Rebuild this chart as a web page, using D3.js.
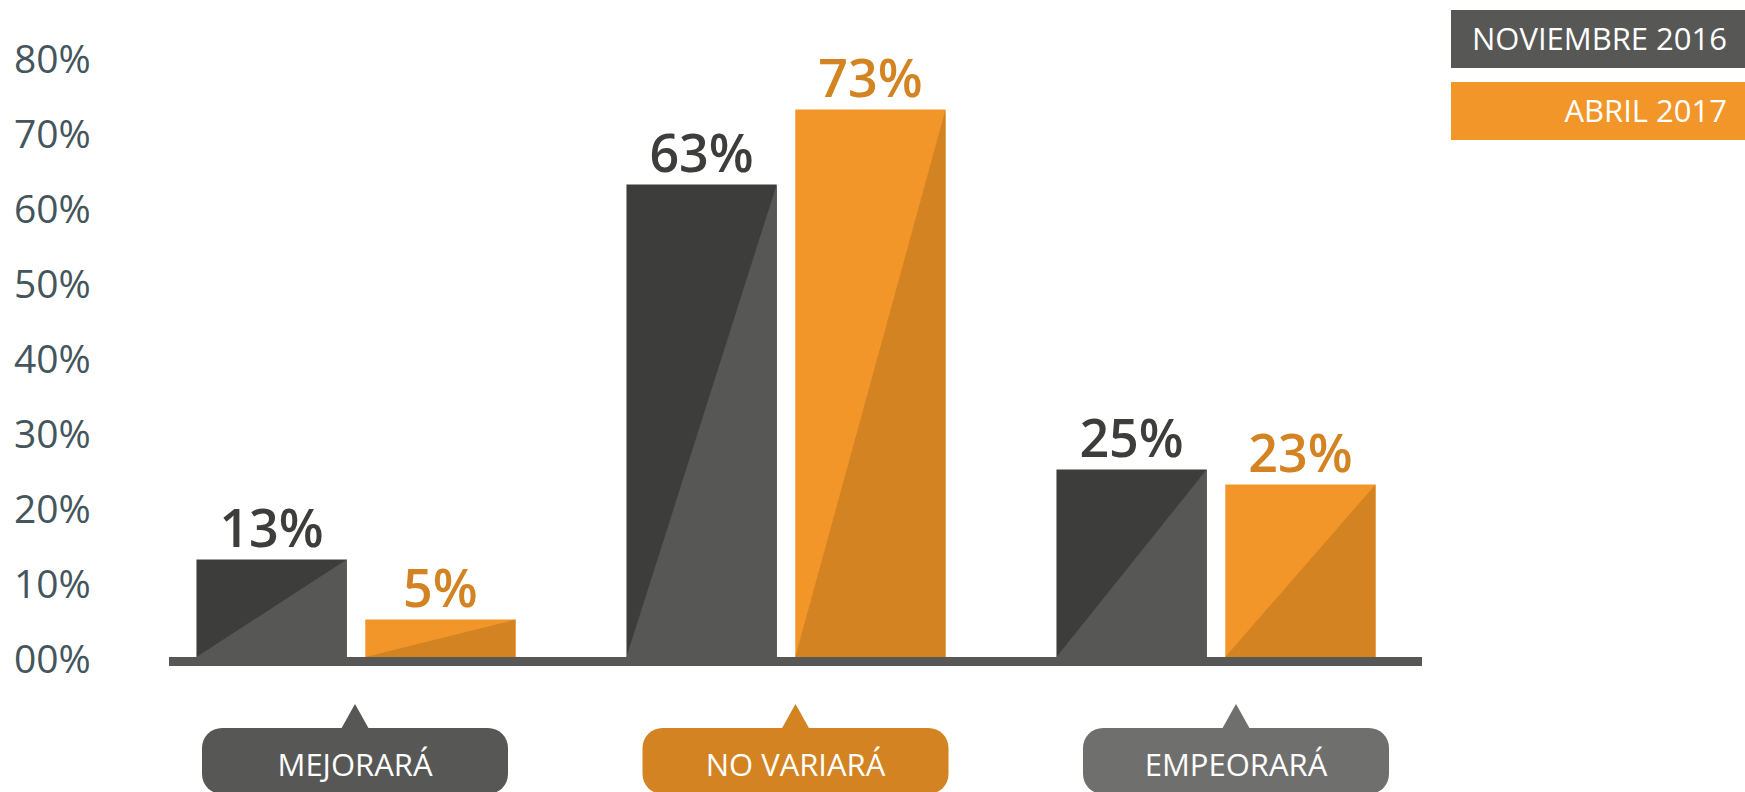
<!DOCTYPE html>
<html>
<head>
<meta charset="utf-8">
<script src="https://cdn.jsdelivr.net/npm/d3@7"></script>
<style>
  html, body { margin: 0; padding: 0; background: #fff; }
  svg { display: block; font-family: "Open Sans", "Noto Sans", sans-serif; }
</style>
</head>
<body>
<div id="main"></div>
<script>
const categories = ["MEJORARÁ", "NO VARIARÁ", "EMPEORARÁ"];
const seriesNames = ["NOVIEMBRE 2016", "ABRIL 2017"];
const nov2016 = [13, 63, 25];
const abr2017 = [5, 73, 23];
const yTicks = [0, 10, 20, 30, 40, 50, 60, 70, 80];

const ctx = { w: 1745, h: 792 };

// colores: [parte superior, triangulo inferior, texto]
const seriesColors = [
    { top: "#3d3d3b", low: "#575756", label: "#3d3d3b" },
    { top: "#f39629", low: "#d38321", label: "#d38321" }
];
const categoryColors = ["#575756", "#d38321", "#6f6f6e"];

function createViz() {
    const svgEl = d3.select("#main").append("svg")
        .attr("width", ctx.w)
        .attr("height", ctx.h);

    svgEl.append("rect").attr("width", ctx.w).attr("height", ctx.h).attr("fill", "#fff");

    const data = categories.map((c, i) => ({ cat: c, values: [nov2016[i], abr2017[i]] }));

    const x0 = d3.scaleBand()
        .domain(categories)
        .range([141, 1431])
        .paddingInner(0.258)
        .paddingOuter(0.129);

    const x1 = d3.scaleBand()
        .domain(seriesNames)
        .range([0, x0.bandwidth()])
        .paddingInner(0.11);

    // posicion de las etiquetas de categoria (algo desplazadas a la derecha)
    const xLab = d3.scalePoint()
        .domain(categories)
        .range([355, 1236]);

    const y = d3.scaleLinear()
        .domain([0, 80])
        .range([657, 57]);

    // eje Y (etiquetas alineadas a la izquierda)
    const yAxis = svgEl.append("g")
        .attr("transform", "translate(14,0)")
        .call(d3.axisLeft(y).tickValues(yTicks).tickSize(0).tickFormat(d => d3.format("02d")(d) + "%"));
    yAxis.select(".domain").remove();
    yAxis.selectAll("text")
        .attr("x", 0)
        .attr("dy", "0.4em")
        .attr("text-anchor", "start")
        .style("font-family", "'Open Sans', sans-serif")
        .style("font-size", "39px")
        .style("font-weight", 500)
        .style("fill", "#44555b");

    // barras
    const groups = svgEl.selectAll(".grupo")
        .data(data)
        .enter().append("g")
        .attr("class", "grupo")
        .attr("transform", d => `translate(${x0(d.cat)},0)`);

    const bars = groups.selectAll(".barra")
        .data(d => d.values.map((v, i) => ({ serie: seriesNames[i], idx: i, value: v })))
        .enter().append("g")
        .attr("class", "barra");

    bars.append("rect")
        .attr("x", d => x1(d.serie))
        .attr("y", d => y(d.value))
        .attr("width", x1.bandwidth())
        .attr("height", d => y(0) - y(d.value))
        .attr("fill", d => seriesColors[d.idx].top);

    // triangulo diagonal inferior derecho
    bars.append("path")
        .attr("d", d => {
            const xa = x1(d.serie), xb = xa + x1.bandwidth();
            return `M${xa},${y(0)}L${xb},${y(0)}L${xb},${y(d.value)}Z`;
        })
        .attr("fill", d => seriesColors[d.idx].low);

    bars.append("text")
        .attr("x", d => x1(d.serie) + x1.bandwidth() / 2)
        .attr("y", d => y(d.value) - 13)
        .attr("text-anchor", "middle")
        .style("font-size", "52px")
        .style("font-weight", 600)
        .style("fill", d => seriesColors[d.idx].label)
        .text(d => d.value + "%");

    // linea base
    svgEl.append("rect")
        .attr("x", 169)
        .attr("y", y(0))
        .attr("width", 1422 - 169)
        .attr("height", 9)
        .attr("fill", "#575756");

    // etiquetas de categoria con flecha
    const catLabels = svgEl.selectAll(".cat")
        .data(categories)
        .enter().append("g")
        .attr("class", "cat")
        .attr("transform", d => `translate(${xLab(d)},0)`);

    catLabels.append("path")
        .attr("d", "M0,704L-14,729L14,729Z")
        .attr("fill", (d, i) => categoryColors[i]);

    catLabels.append("rect")
        .attr("x", -153)
        .attr("y", 728)
        .attr("width", 306)
        .attr("height", 66)
        .attr("rx", 20)
        .attr("fill", (d, i) => categoryColors[i]);

    catLabels.append("text")
        .attr("y", 776)
        .attr("text-anchor", "middle")
        .style("font-size", "31px")
        .style("fill", "#fff")
        .text(d => d);

    // leyenda
    const legend = svgEl.append("g").attr("transform", "translate(1451,10)");
    seriesNames.forEach((s, i) => {
        const row = legend.append("g").attr("transform", `translate(0,${i * 72})`);
        row.append("rect")
            .attr("width", 294)
            .attr("height", 58)
            .attr("fill", i === 0 ? "#575756" : "#f39629");
        row.append("text")
            .attr("x", 276)
            .attr("y", 40)
            .attr("text-anchor", "end")
            .style("font-size", "31px")
            .style("fill", "#fff")
            .text(s);
    });
}

createViz();
</script>
</body>
</html>
